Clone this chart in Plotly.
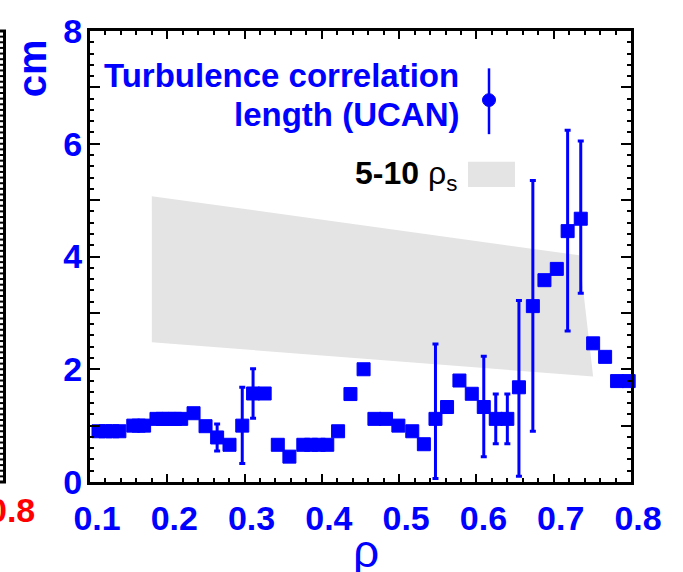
import plotly.graph_objects as go

# ---------------- data ----------------
rho = [0.111, 0.120, 0.129, 0.138, 0.156, 0.163, 0.170, 0.186, 0.194, 0.202,
       0.210, 0.218, 0.234, 0.2495, 0.2645, 0.2805, 0.297, 0.311, 0.326, 0.343,
       0.358, 0.376, 0.386, 0.396, 0.407, 0.421, 0.437, 0.454, 0.468, 0.483,
       0.499, 0.517, 0.532, 0.547, 0.562, 0.578, 0.594, 0.6095, 0.625, 0.640,
       0.655, 0.673, 0.688, 0.704, 0.718, 0.735, 0.751, 0.7665, 0.782, 0.797]
lcorr = [0.90, 0.90, 0.90, 0.90, 1.00, 1.00, 1.00, 1.12, 1.12, 1.12,
         1.12, 1.12, 1.22, 0.99, 0.79, 0.66, 1.00, 1.57, 1.57, 0.66,
         0.45, 0.66, 0.66, 0.66, 0.66, 0.90, 1.56, 2.00, 1.12, 1.12,
         1.00, 0.90, 0.67, 1.12, 1.33, 1.80, 1.565, 1.33, 1.12, 1.12,
         1.68, 3.12, 3.58, 3.78, 4.45, 4.67, 2.46, 2.22, 1.79, 1.79]
err_plus = [0, 0, 0, 0, 0, 0, 0, 0, 0, 0,
            0, 0, 0, 0, 0.24, 0, 0.68, 0.44, 0, 0,
            0, 0, 0, 0, 0, 0, 0, 0, 0, 0,
            0, 0, 0, 1.33, 0, 0, 0, 0.90, 0.44, 0.44,
            1.54, 2.23, 0, 0, 1.79, 1.38, 0, 0, 0, 0]
err_minus = [0, 0, 0, 0, 0, 0, 0, 0, 0, 0,
             0, 0, 0, 0, 0.24, 0, 0.67, 0.44, 0, 0,
             0, 0, 0, 0, 0, 0, 0, 0, 0, 0,
             0, 0, 0, 1.06, 0, 0, 0, 0.88, 0.44, 0.44,
             1.58, 2.22, 0, 0, 1.77, 1.32, 0, 0, 0, 0]

# 5-10 rho_s band (upper = 10 rho_s, lower = 5 rho_s)
band_upper_x = [0.180, 0.733]
band_upper_y = [5.07, 4.02]
band_lower_x = [0.180, 0.751]
band_lower_y = [2.48, 1.87]

xtick_vals = [0.1, 0.2, 0.3, 0.4, 0.5, 0.6, 0.7, 0.8]
xtick_text = ["0.1", "0.2", "0.3", "0.4", "0.5", "0.6", "0.7", "0.8"]
ytick_vals = [0, 1, 2, 3, 4, 5, 6, 7, 8]
ytick_text = ["0", "", "2", "", "4", "", "6", "", "8"]

# ---------------- layout geometry (pixels) ----------------
W, H = 683, 572
L, R, T, B = 90, 631, 23, 482


def pxx(xp):
    return (xp - L) / (R - L)


def pxy(yp):
    return (B - yp) / (B - T)


BLUE = "#0000FF"
GRAY = "#E4E4E4"
SANS = "Liberation Sans, Arial, sans-serif"

fig = go.Figure()

# band
fig.add_trace(go.Scatter(
    x=band_upper_x + band_lower_x[::-1],
    y=band_upper_y + band_lower_y[::-1],
    fill="toself", fillcolor=GRAY, mode="lines",
    line=dict(width=0, color=GRAY), hoverinfo="skip", showlegend=False))

# correlation length
fig.add_trace(go.Scatter(
    x=rho, y=lcorr, mode="markers",
    marker=dict(symbol="square", size=13, color=BLUE, line=dict(width=1, color=BLUE)),
    error_y=dict(type="data", array=err_plus, arrayminus=err_minus, symmetric=False,
                 color=BLUE, thickness=3, width=3),
    cliponaxis=False, showlegend=False))

tickfont = dict(family=SANS, size=34, color=BLUE, weight="bold")

fig.update_xaxes(
    range=[0.1, 0.8], tickvals=xtick_vals, ticktext=xtick_text,
    ticks="inside", ticklen=8, tickwidth=2, tickcolor="black",
    showline=True, linewidth=3, linecolor="black", mirror="ticks",
    showgrid=False, zeroline=False, tickfont=tickfont, ticklabelshift=7,
    ticklabelstandoff=4,
    minor=dict(dtick=0.02, ticks="inside", ticklen=4, tickwidth=2, tickcolor="black", showgrid=False))
fig.update_yaxes(
    range=[0, 8], tickvals=ytick_vals, ticktext=ytick_text,
    ticks="inside", ticklen=10, tickwidth=2, tickcolor="black",
    showline=True, linewidth=3, linecolor="black", mirror="ticks",
    showgrid=False, zeroline=False, tickfont=tickfont, ticklabelstandoff=-2,
    minor=dict(dtick=0.2, ticks="inside", ticklen=4, tickwidth=2, tickcolor="black", showgrid=False))

shapes = []
# legend symbols
shapes.append(dict(type="line", xref="paper", yref="paper",
                   x0=pxx(489), x1=pxx(489), y0=pxy(61), y1=pxy(128),
                   line=dict(color=BLUE, width=2.5)))
shapes.append(dict(type="circle", xref="paper", yref="paper",
                   x0=pxx(482.5), x1=pxx(495.5), y0=pxy(86.8), y1=pxy(99.8),
                   fillcolor=BLUE, line=dict(color=BLUE, width=1)))
shapes.append(dict(type="rect", xref="paper", yref="paper",
                   x0=pxx(468), x1=pxx(515), y0=pxy(156), y1=pxy(181.7),
                   fillcolor=GRAY, line=dict(width=0)))
# neighbouring panel edge on the far left
shapes.append(dict(type="line", xref="paper", yref="paper",
                   x0=pxx(4.5), x1=pxx(4.5), y0=pxy(T), y1=pxy(B),
                   line=dict(color="black", width=3)))
shapes.append(dict(type="line", xref="paper", yref="paper",
                   x0=pxx(-2), x1=pxx(6), y0=pxy(T), y1=pxy(T),
                   line=dict(color="black", width=3)))
shapes.append(dict(type="line", xref="paper", yref="paper",
                   x0=pxx(-2), x1=pxx(6), y0=pxy(B), y1=pxy(B),
                   line=dict(color="black", width=3)))
for i in range(1, 80):
    yv = i * 0.1
    shapes.append(dict(type="line", xref="paper", yref="y",
                       x0=pxx(-1), x1=pxx(4.5), y0=yv, y1=yv,
                       line=dict(color="black", width=2)))

annotations = [
    dict(text="Turbulence correlation", xref="paper", yref="paper",
         x=pxx(461), y=pxy(68), xanchor="right", yanchor="middle", showarrow=False,
         font=dict(family=SANS, size=33, color=BLUE, weight="bold")),
    dict(text="length (UCAN)", xref="paper", yref="paper",
         x=pxx(461), y=pxy(108), xanchor="right", yanchor="middle", showarrow=False,
         font=dict(family=SANS, size=33, color=BLUE, weight="bold")),
    dict(text="<b>5-10</b> ρ<sub>s</sub>", xref="paper", yref="paper",
         x=pxx(459), y=pxy(170), xanchor="right", yanchor="middle", showarrow=False,
         font=dict(family=SANS, size=32, color="black")),
    dict(text="ρ", xref="paper", yref="paper",
         x=pxx(366), y=pxy(552), xanchor="center", yanchor="middle", showarrow=False,
         font=dict(family=SANS, size=46, color=BLUE)),
    dict(text="cm", xref="paper", yref="paper", textangle=-90,
         x=pxx(32), y=pxy(61), xanchor="center", yanchor="middle", showarrow=False,
         font=dict(family=SANS, size=40, color=BLUE, weight="bold")),
    dict(text="0.8", xref="paper", yref="paper",
         x=pxx(37), y=pxy(511), xanchor="right", yanchor="middle", showarrow=False,
         font=dict(family=SANS, size=34, color="#FF0000", weight="bold")),
]

fig.update_layout(
    width=W, height=H, autosize=False,
    margin=dict(l=L, r=W - R, t=T, b=H - B, pad=0),
    paper_bgcolor="white", plot_bgcolor="white",
    shapes=shapes, annotations=annotations, showlegend=False)

fig.write_html("out.html")
